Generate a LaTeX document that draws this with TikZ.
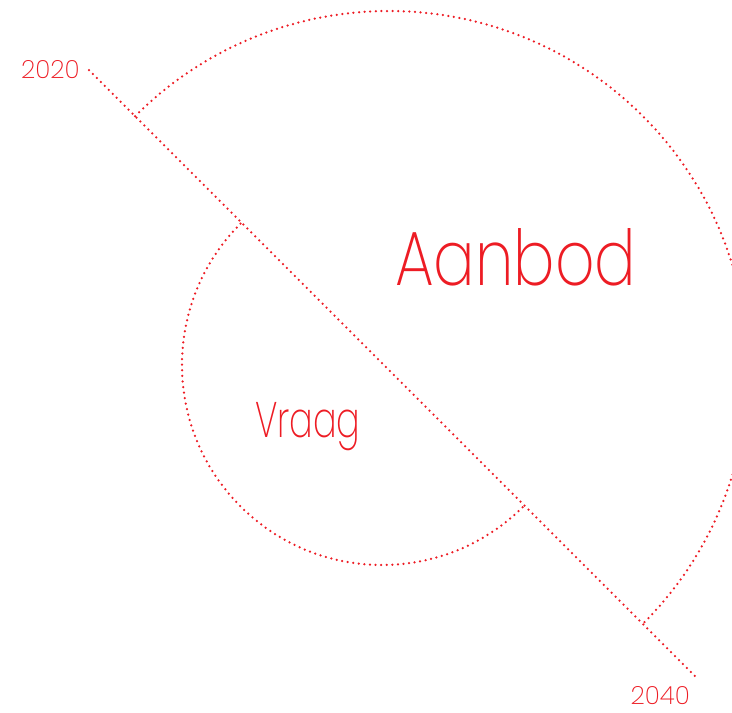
\documentclass[tikz,border=0pt]{standalone}
\usepackage{fontspec}
\setmainfont{Poppins}[UprightFont=* ExtraLight]
\newfontfamily\aanbodfont{Poppins}[UprightFont=* ExtraLight, FakeStretch=0.80]
\newfontfamily\vraagfont{Poppins}[UprightFont=* ExtraLight, FakeStretch=0.70]
\usetikzlibrary{positioning,calc}
\definecolor{tlred}{RGB}{237,28,36}
\tikzset{
	dotline/.style = {draw=tlred, line width=2.5pt, line cap=round,
		dash pattern=on 0pt off 5.6pt},
	year/.style = {inner sep=0pt, text=tlred, font=\fontsize{25}{25}\selectfont},
	word/.style = {inner sep=0pt, text=tlred, anchor=base west}
}

\begin{document}
\begin{tikzpicture}[x=1pt, y=-1pt]
\useasboundingbox (0,0) rectangle (732,713);
\coordinate (start) at (89,70);
\coordinate (end) at (695,676);
\coordinate (big) at (389,370);
\coordinate (small) at (382,365);
%----------------- Time line --------------
\draw[dotline] (start) -- (end);
\node (y2020) [year, left=9pt of start] {2020};
\node (y2040) [year, below left=10pt and 5pt of end] {2040};
%----------------- Circles --------------
\draw[dotline] (big) ++(225:359) arc[start angle=225, end angle=405, radius=359];
\draw[dotline] (small) ++(225:200) arc[start angle=225, end angle=45, radius=200];
%----------------- Labels --------------
\node (aanbod) [word, font=\aanbodfont\fontsize{77}{77}\selectfont] at (395,285) {Aanbod};
\node (vraag) [word, font=\vraagfont\fontsize{50}{50}\selectfont] at (255,437) {Vraag};
\end{tikzpicture}
\end{document}
